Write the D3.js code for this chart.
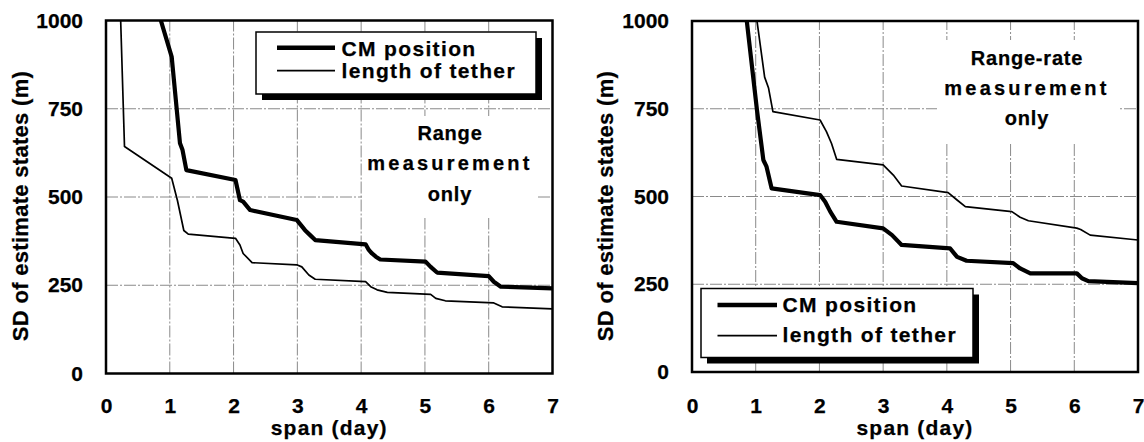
<!DOCTYPE html>
<html><head><meta charset="utf-8">
<script src="https://cdn.jsdelivr.net/npm/d3@7"></script>
<style>
body{margin:0;background:#fff;}
text{font-family:"Liberation Sans",Arial,sans-serif;font-weight:bold;fill:#000;stroke:#000;stroke-width:0.25px;}
</style></head>
<body><svg id="c" width="1144" height="442"></svg>
<script>
// ---- data ----
const xTicks = [0,1,2,3,4,5,6,7];
const yTicks = [0,250,500,750,1000];
const seriesNames = ["CM position","length of tether"];

// Left panel: range measurement only
const rangeCM_x = [0.86,1.03,1.16,1.2,1.26,2.03,2.1,2.15,2.26,2.99,3.12,3.2,3.28,4.07,4.12,4.17,4.23,4.3,5.01,5.09,5.19,6.0,6.08,6.19,7.0];
const rangeCM_y = [1000,897,652,633,576,548,491,487,463,435,406,392,378,366,350,340,331,323,317,302,286,276,260,246,241];
const rangeTether_x = [0.23,0.29,1.03,1.12,1.22,1.29,2.03,2.1,2.15,2.29,2.99,3.07,3.18,3.28,4.07,4.15,4.25,4.41,5.09,5.17,5.32,6.08,6.21,7.0];
const rangeTether_y = [1000,643,553,490,405,395,383,364,340,314,308,302,279,267,260,246,237,230,224,213,206,200,189,183];

// Right panel: range-rate measurement only
const rateCM_x = [0.86,1.02,1.12,1.17,1.25,2.01,2.09,2.17,2.27,3.0,3.14,3.29,4.05,4.16,4.31,5.04,5.15,5.31,6.04,6.12,6.22,7.0];
const rateCM_y = [1000,746,604,585,523,504,485,457,428,409,390,362,352,328,317,310,295,281,281,267,259,253];
const rateTether_x = [1.02,1.14,1.2,1.27,2.01,2.11,2.19,2.27,3.0,3.16,3.29,4.02,4.16,4.29,5.02,5.15,5.28,6.04,6.1,6.25,7.0];
const rateTether_y = [1000,840,810,742,718,685,651,606,590,561,530,511,490,471,457,441,431,410,406,390,376];

const zip = (xs, ys) => xs.map((x,i)=>[x, ys[i]]);

const svg = d3.select("#c");

function panel(cfg){
  const x = d3.scaleLinear().domain([0,7]).range([cfg.x0, cfg.x1]);
  const y = d3.scaleLinear().domain([0,1000]).range([cfg.y0, cfg.y1]);
  const g = svg.append("g");

  // gridlines
  g.append("g").selectAll("line.v").data(xTicks.slice(1,-1)).join("line")
    .attr("x1", d=>x(d)).attr("x2", d=>x(d)).attr("y1", y(0)).attr("y2", y(1000))
    .attr("stroke","#8a8a8a").attr("stroke-width",1).attr("stroke-dasharray","12,2,2,2");
  g.append("g").selectAll("line.h").data(yTicks.slice(1,-1)).join("line")
    .attr("x1", x(0)).attr("x2", x(7)).attr("y1", d=>y(d)).attr("y2", d=>y(d))
    .attr("stroke","#8a8a8a").attr("stroke-width",1).attr("stroke-dasharray","12,2,2,2");

  // clip
  const cid = "clip" + cfg.id;
  svg.append("clipPath").attr("id", cid).append("rect")
    .attr("x", x(0)).attr("y", y(1000)).attr("width", x(7)-x(0)).attr("height", y(0)-y(1000));

  const line = d3.line().x(d=>x(d[0])).y(d=>y(d[1]));
  const lg = g.append("g").attr("clip-path", `url(#${cid})`);
  lg.append("path").datum(cfg.tether).attr("d", line)
    .attr("fill","none").attr("stroke","#000").attr("stroke-width",1.7).attr("stroke-linejoin","round");
  lg.append("path").datum(cfg.cm).attr("d", line)
    .attr("fill","none").attr("stroke","#000").attr("stroke-width",4.2).attr("stroke-linejoin","round");

  // annotation text with white background
  g.append("rect").attr("x", cfg.note.bx).attr("y", cfg.note.by)
    .attr("width", cfg.note.bw).attr("height", cfg.note.bh).attr("fill","#fff");
  cfg.note.lines.forEach((t,i)=>{
    g.append("text").attr("x", cfg.note.cx).attr("y", cfg.note.base[i])
      .attr("text-anchor","middle").attr("font-size", 20)
      .attr("letter-spacing", cfg.note.ls[i]).text(t);
  });

  // legend
  const L = cfg.legend;
  g.append("rect").attr("x", L.x+6).attr("y", L.y+6).attr("width", L.w).attr("height", L.h).attr("fill","#000");
  g.append("rect").attr("x", L.x).attr("y", L.y).attr("width", L.w).attr("height", L.h)
    .attr("fill","#fff").attr("stroke","#000").attr("stroke-width",1.5);
  seriesNames.forEach((n,i)=>{
    g.append("line").attr("x1", L.lx0).attr("x2", L.lx1).attr("y1", L.ly[i]).attr("y2", L.ly[i])
      .attr("stroke","#000").attr("stroke-width", i===0?4.5:1.7);
    g.append("text").attr("x", L.tx).attr("y", L.tb[i]).attr("font-size", 21)
      .attr("letter-spacing", 1.35).text(n);
  });

  // axes
  const ya = d3.axisLeft(y).tickValues(yTicks).tickSize(0).tickPadding(23).tickFormat(d3.format("d"));
  const xa = d3.axisBottom(x).tickValues(xTicks).tickSize(0).tickPadding(cfg.xPad).tickFormat(d3.format("d"));
  const yg = g.append("g").attr("transform", `translate(${x(0)},0)`).call(ya);
  const xg = g.append("g").attr("transform", `translate(0,${y(0)})`).call(xa);
  [yg,xg].forEach(a=>{
    a.select(".domain").remove();
    a.selectAll("text").attr("font-size",21).attr("font-family","Liberation Sans, Arial, sans-serif")
      .attr("font-weight","bold").attr("fill","#000");
  });

  // frame
  g.append("rect").attr("x", x(0)).attr("y", y(1000)).attr("width", x(7)-x(0)).attr("height", y(0)-y(1000))
    .attr("fill","none").attr("stroke","#000").attr("stroke-width",2.5);

  // axis titles
  g.append("text").attr("x", (x(0)+x(7))/2).attr("y", cfg.xTitleBase)
    .attr("text-anchor","middle").attr("font-size",21).attr("letter-spacing",1.2).text("span (day)");
  g.append("text").attr("transform", `translate(${cfg.yTitleX},${cfg.yTitleY}) rotate(-90)`)
    .attr("text-anchor","middle").attr("font-size",22).attr("letter-spacing",0.3).text("SD of estimate states (m)");
}

panel({
  id:"L", x0:106, x1:552.5, y0:373.5, y1:20.5, xPad:25,
  cm: zip(rangeCM_x, rangeCM_y), tether: zip(rangeTether_x, rangeTether_y),
  note:{bx:362,by:116,bw:175,bh:102,cx:450,base:[140,170,201],ls:[0.8,3.2,0.8],lines:["Range","measurement","only"]},
  legend:{x:256,y:32,w:280,h:62,lx0:277,lx1:335,ly:[47.7,70.7],tx:341.5,tb:[56,78]},
  xTitleBase:435, yTitleX:27.5, yTitleY:206
});
panel({
  id:"R", x0:692, x1:1138, y0:372, y1:21, xPad:26.5,
  cm: zip(rateCM_x, rateCM_y), tether: zip(rateTether_x, rateTether_y),
  note:{bx:937,by:40,bw:181,bh:104,cx:1027,base:[65,95,125],ls:[0.8,3.2,0.8],lines:["Range-rate","measurement","only"]},
  legend:{x:701,y:288.5,w:272,h:69,lx0:717.5,lx1:777,ly:[305,335.7],tx:782.5,tb:[312,342]},
  xTitleBase:435, yTitleX:613, yTitleY:206
});
</script></body></html>
